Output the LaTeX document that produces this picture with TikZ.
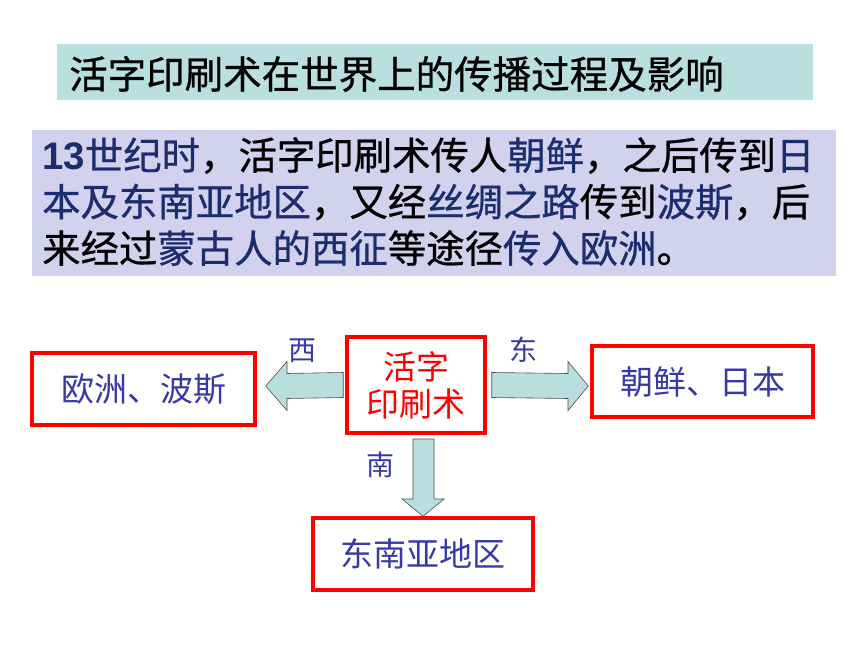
\documentclass[tikz,border=0pt]{standalone}
\usepackage{fontspec}
\setmainfont{Liberation Sans}
\newfontfamily\cjk{Noto Sans CJK SC}
\newfontfamily\cjkh{Noto Sans CJK SC}[FakeBold=0.7]
\usetikzlibrary{calc}
\definecolor{titlebg}{HTML}{BADFE0}
\definecolor{parabg}{HTML}{D2D2EE}
\definecolor{dblue}{HTML}{1B2D6E}
\definecolor{boxtxt}{HTML}{3838A6}
\definecolor{arrowfill}{HTML}{B8DEE0}
\definecolor{boxred}{HTML}{FF0000}
\tikzset{
  panel/.style={draw=none, anchor=north west, inner sep=0pt},
  redbox/.style={draw=boxred, line width=3.5pt, fill=white, inner sep=0pt, font=\cjk\fontsize{33}{36}\selectfont, text=boxtxt},
  blockarrow/.style={draw=black!70, line width=0.6pt, fill=arrowfill, line join=miter},
  dirlabel/.style={inner sep=0pt, text=boxtxt, font=\cjk\fontsize{28}{30}\selectfont},
}
\newcommand{\bl}[1]{\textcolor{dblue}{#1}}
\begin{document}
\begin{tikzpicture}[x=1pt,y=-1pt]
\useasboundingbox (0,0) rectangle (860,645);
% title band
\node[panel, fill=titlebg, minimum width=756pt, minimum height=56pt] (tband) at (57,44) {};
\node[anchor=west, inner sep=0pt, font=\cjkh\fontsize{38.5}{40}\selectfont] (ttext) at (69,74) {活字印刷术在世界上的传播过程及影响};
% paragraph band
\node[panel, fill=parabg, minimum width=804pt, minimum height=146pt] (pband) at (32,130) {};
\node[anchor=north west, inner sep=0pt, align=left, font=\cjkh\fontsize{38.4}{46.5}\selectfont] (ptext) at (42,137)
{\bl{{\rmfamily\bfseries 13}世纪时}，活字印刷术传人\bl{朝鲜}，之后传到\bl{日}\\
\bl{本及东南亚地区}，又经\bl{丝绸之路}传到\bl{波斯}，后\\
来经过\bl{蒙古人的西征}等途径\bl{传入欧洲}。};
% boxes
\node[redbox, minimum width=138pt, minimum height=96pt, align=center, text=boxred] (c) at (416,385) {活字\\[1pt]印刷术};
\node[redbox, minimum width=223pt, minimum height=72pt] (l) at (143.5,389) {欧洲、波斯};
\node[redbox, minimum width=221pt, minimum height=71pt] (r) at (702.5,381.5) {朝鲜、日本};
\node[redbox, minimum width=220pt, minimum height=72pt] (b) at (423,554) {东南亚地区};
% arrows
\coordinate (lt) at ($(l.east)+(9,-3)$);
\draw[blockarrow] ($(c.west)+(-2,-12.5)$) -- (287,373.5) -- (287,361.5) -- (lt) -- (287,410.5) -- (287,398.5) -- ($(c.west)+(-2,12.5)$) -- cycle;
\coordinate (rt) at ($(r.west)+(-2,4.5)$);
\draw[blockarrow] ($(c.east)+(5,-12.5)$) -- (568,373.5) -- (568,361.5) -- (rt) -- (568,410.5) -- (568,398.5) -- ($(c.east)+(5,12.5)$) -- cycle;
\coordinate (bt) at (b.north);
\draw[blockarrow] (413,439) -- (413,499) -- (402,499) -- (bt) -- (444,499) -- (434,499) -- (434,439) -- cycle;
% labels
\node[dirlabel] (w) at (302,351) {西};
\node[dirlabel] (e) at (523,350) {东};
\node[dirlabel] (s) at (380,465) {南};
\end{tikzpicture}
\end{document}
